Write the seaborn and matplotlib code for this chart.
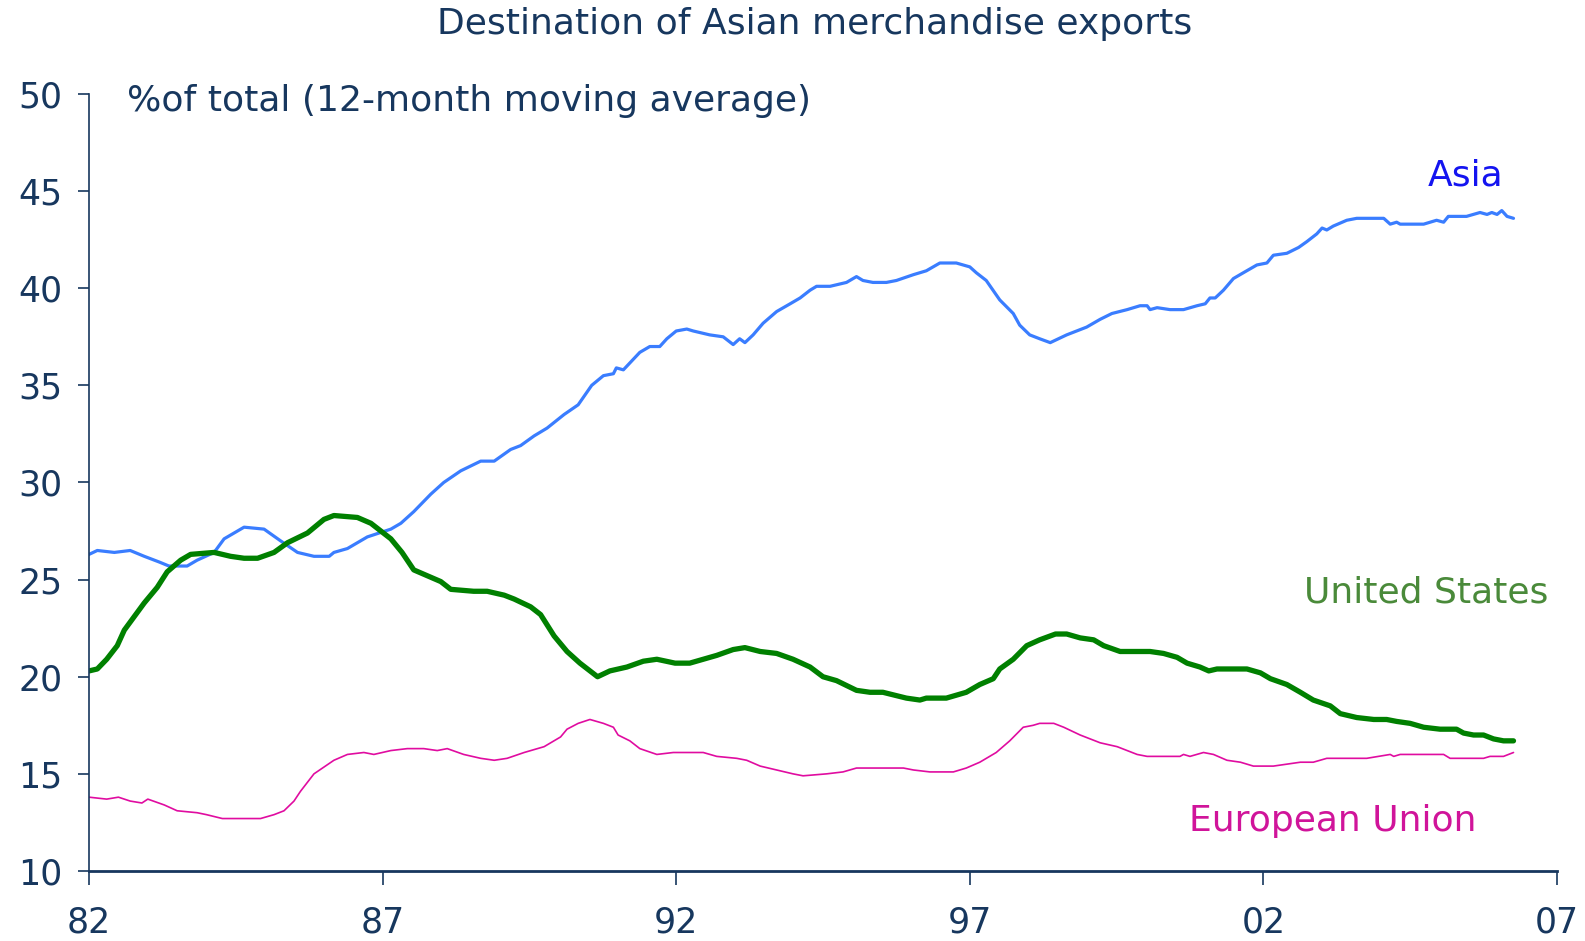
import matplotlib
matplotlib.use("Agg")
import matplotlib.pyplot as plt
import seaborn as sns
import pandas as pd

# ---------------- data ----------------
asia_years = [1982.0, 1982.14, 1982.43, 1982.7, 1982.94, 1983.2, 1983.36, 1983.67, 1983.84, 1984.13,
              1984.3, 1984.64, 1984.98, 1985.26, 1985.55, 1985.83, 1986.09, 1986.17, 1986.4, 1986.74,
              1987.14, 1987.31, 1987.53, 1987.82, 1988.04, 1988.33, 1988.67, 1988.9, 1989.18, 1989.35,
              1989.58, 1989.8, 1990.09, 1990.33, 1990.56, 1990.76, 1990.93, 1990.98, 1991.1, 1991.38,
              1991.55, 1991.72, 1991.84, 1992.0, 1992.18, 1992.29, 1992.57, 1992.8, 1992.97, 1993.08,
              1993.17, 1993.31, 1993.48, 1993.71, 1993.94, 1994.11, 1994.28, 1994.39, 1994.62, 1994.9,
              1995.07, 1995.18, 1995.35, 1995.58, 1995.75, 1996.04, 1996.26, 1996.49, 1996.77, 1997.0,
              1997.11, 1997.28, 1997.51, 1997.74, 1997.85, 1998.02, 1998.19, 1998.37, 1998.65, 1998.99,
              1999.22, 1999.42, 1999.68, 1999.9, 2000.02, 2000.07, 2000.19, 2000.41, 2000.64, 2000.87,
              2001.01, 2001.09, 2001.18, 2001.32, 2001.49, 2001.66, 2001.89, 2002.06, 2002.17, 2002.4,
              2002.6, 2002.74, 2002.91, 2003.0, 2003.08, 2003.19, 2003.42, 2003.59, 2003.82, 2004.05,
              2004.16, 2004.27, 2004.33, 2004.73, 2004.95, 2005.07, 2005.15, 2005.46, 2005.69, 2005.81,
              2005.89, 2005.98, 2006.06, 2006.15, 2006.26]
asia_share = [26.3, 26.5, 26.4, 26.5, 26.2, 25.9, 25.7, 25.7, 26.0, 26.4,
              27.1, 27.7, 27.6, 27.0, 26.4, 26.2, 26.2, 26.4, 26.6, 27.2,
              27.6, 27.9, 28.5, 29.4, 30.0, 30.6, 31.1, 31.1, 31.7, 31.9,
              32.4, 32.8, 33.5, 34.0, 35.0, 35.5, 35.6, 35.9, 35.8, 36.7,
              37.0, 37.0, 37.4, 37.8, 37.9, 37.8, 37.6, 37.5, 37.1, 37.4,
              37.2, 37.6, 38.2, 38.8, 39.2, 39.5, 39.9, 40.1, 40.1, 40.3,
              40.6, 40.4, 40.3, 40.3, 40.4, 40.7, 40.9, 41.3, 41.3, 41.1,
              40.8, 40.4, 39.4, 38.7, 38.1, 37.6, 37.4, 37.2, 37.6, 38.0,
              38.4, 38.7, 38.9, 39.1, 39.1, 38.9, 39.0, 38.9, 38.9, 39.1,
              39.2, 39.5, 39.5, 39.9, 40.5, 40.8, 41.2, 41.3, 41.7, 41.8,
              42.1, 42.4, 42.8, 43.1, 43.0, 43.2, 43.5, 43.6, 43.6, 43.6,
              43.3, 43.4, 43.3, 43.3, 43.5, 43.4, 43.7, 43.7, 43.9, 43.8,
              43.9, 43.8, 44.0, 43.7, 43.6]

us_years = [1982.0, 1982.14, 1982.3, 1982.48, 1982.6, 1982.77, 1982.94, 1983.16, 1983.33, 1983.56,
            1983.73, 1984.13, 1984.41, 1984.64, 1984.87, 1985.15, 1985.38, 1985.72, 1986.0, 1986.17,
            1986.57, 1986.8, 1987.14, 1987.33, 1987.53, 1987.76, 1987.99, 1988.16, 1988.55, 1988.78,
            1989.07, 1989.24, 1989.52, 1989.69, 1989.92, 1990.14, 1990.36, 1990.66, 1990.87, 1991.16,
            1991.44, 1991.67, 1991.98, 1992.23, 1992.46, 1992.69, 1992.97, 1993.17, 1993.43, 1993.71,
            1993.99, 1994.28, 1994.5, 1994.73, 1995.07, 1995.3, 1995.52, 1995.92, 1996.15, 1996.26,
            1996.6, 1996.94, 1997.17, 1997.4, 1997.51, 1997.74, 1997.97, 1998.19, 1998.46, 1998.65,
            1998.88, 1999.11, 1999.28, 1999.56, 2000.07, 2000.3, 2000.53, 2000.7, 2000.92, 2001.07,
            2001.21, 2001.72, 2001.95, 2002.12, 2002.4, 2002.63, 2002.85, 2003.14, 2003.31, 2003.59,
            2003.88, 2004.1, 2004.27, 2004.5, 2004.73, 2005.01, 2005.29, 2005.41, 2005.58, 2005.75,
            2005.92, 2006.09, 2006.26]
us_share = [20.3, 20.4, 20.9, 21.6, 22.4, 23.1, 23.8, 24.6, 25.4, 26.0,
            26.3, 26.4, 26.2, 26.1, 26.1, 26.4, 26.9, 27.4, 28.1, 28.3,
            28.2, 27.9, 27.1, 26.4, 25.5, 25.2, 24.9, 24.5, 24.4, 24.4,
            24.2, 24.0, 23.6, 23.2, 22.1, 21.3, 20.7, 20.0, 20.3, 20.5,
            20.8, 20.9, 20.7, 20.7, 20.9, 21.1, 21.4, 21.5, 21.3, 21.2,
            20.9, 20.5, 20.0, 19.8, 19.3, 19.2, 19.2, 18.9, 18.8, 18.9,
            18.9, 19.2, 19.6, 19.9, 20.4, 20.9, 21.6, 21.9, 22.2, 22.2,
            22.0, 21.9, 21.6, 21.3, 21.3, 21.2, 21.0, 20.7, 20.5, 20.3,
            20.4, 20.4, 20.2, 19.9, 19.6, 19.2, 18.8, 18.5, 18.1, 17.9,
            17.8, 17.8, 17.7, 17.6, 17.4, 17.3, 17.3, 17.1, 17.0, 17.0,
            16.8, 16.7, 16.7]

eu_years = [1982.0, 1982.3, 1982.5, 1982.7, 1982.9, 1983.0, 1983.28, 1983.5, 1983.84, 1984.0,
            1984.27, 1984.92, 1985.15, 1985.32, 1985.49, 1985.6, 1985.83, 1986.17, 1986.4, 1986.68,
            1986.85, 1987.14, 1987.42, 1987.7, 1987.93, 1988.1, 1988.38, 1988.67, 1988.9, 1989.12,
            1989.41, 1989.75, 1990.03, 1990.14, 1990.33, 1990.53, 1990.76, 1990.93, 1991.01, 1991.21,
            1991.38, 1991.67, 1991.95, 1992.46, 1992.69, 1993.03, 1993.2, 1993.43, 1993.71, 1993.99,
            1994.16, 1994.56, 1994.84, 1995.07, 1995.35, 1995.87, 1996.04, 1996.32, 1996.72, 1996.94,
            1997.17, 1997.45, 1997.68, 1997.91, 1998.08, 1998.19, 1998.43, 1998.6, 1998.88, 1999.22,
            1999.51, 1999.68, 1999.85, 2000.02, 2000.58, 2000.64, 2000.75, 2000.98, 2001.15, 2001.38,
            2001.61, 2001.83, 2002.17, 2002.4, 2002.63, 2002.85, 2003.08, 2003.76, 2004.16, 2004.22,
            2004.33, 2005.07, 2005.18, 2005.75, 2005.86, 2006.09, 2006.26]
eu_share = [13.8, 13.7, 13.8, 13.6, 13.5, 13.7, 13.4, 13.1, 13.0, 12.9,
            12.7, 12.7, 12.9, 13.1, 13.6, 14.1, 15.0, 15.7, 16.0, 16.1,
            16.0, 16.2, 16.3, 16.3, 16.2, 16.3, 16.0, 15.8, 15.7, 15.8,
            16.1, 16.4, 16.9, 17.3, 17.6, 17.8, 17.6, 17.4, 17.0, 16.7,
            16.3, 16.0, 16.1, 16.1, 15.9, 15.8, 15.7, 15.4, 15.2, 15.0,
            14.9, 15.0, 15.1, 15.3, 15.3, 15.3, 15.2, 15.1, 15.1, 15.3,
            15.6, 16.1, 16.7, 17.4, 17.5, 17.6, 17.6, 17.4, 17.0, 16.6,
            16.4, 16.2, 16.0, 15.9, 15.9, 16.0, 15.9, 16.1, 16.0, 15.7,
            15.6, 15.4, 15.4, 15.5, 15.6, 15.6, 15.8, 15.8, 16.0, 15.9,
            16.0, 16.0, 15.8, 15.8, 15.9, 15.9, 16.1]

xtick_vals = [1982, 1987, 1992, 1997, 2002, 2007]
xtick_labels = ["82", "87", "92", "97", "02", "07"]
ytick_vals = [10, 15, 20, 25, 30, 35, 40, 45, 50]

title = "Destination of Asian merchandise exports"
unit_label = "%of total (12-month moving average)"
series_labels = ["Asia", "United States", "European Union"]

# ---------------- styling ----------------
sns.set_theme(style="white")
plt.rcParams["font.family"] = ["DejaVu Sans"]

navy = "#17375e"
asia_c, us_c, eu_c = "#3a7dff", "#008000", "#e00ca0"

fig = plt.figure(figsize=(15.85, 9.41), dpi=100)
ax = fig.add_axes([0.0562, 0.0744, 0.9261, 0.8257])

df_asia = pd.DataFrame({"year": asia_years, "share": asia_share})
df_us = pd.DataFrame({"year": us_years, "share": us_share})
df_eu = pd.DataFrame({"year": eu_years, "share": eu_share})

sns.lineplot(data=df_eu, x="year", y="share", ax=ax, color=eu_c, linewidth=1.2)
sns.lineplot(data=df_asia, x="year", y="share", ax=ax, color=asia_c, linewidth=2.3)
sns.lineplot(data=df_us, x="year", y="share", ax=ax, color=us_c, linewidth=3.8)

ax.set_xlim(1982, 2007)
ax.set_ylim(10, 50)
ax.set_xticks(xtick_vals)
ax.set_xticklabels(xtick_labels)
ax.set_yticks(ytick_vals)
ax.set_xlabel("")
ax.set_ylabel("")

for s in ["top", "right"]:
    ax.spines[s].set_visible(False)
for s in ["left", "bottom"]:
    ax.spines[s].set_color(navy)
ax.spines["left"].set_linewidth(1.2)
ax.spines["bottom"].set_linewidth(2.0)

ax.tick_params(axis="x", direction="out", length=10, width=1.2, color=navy,
               labelcolor=navy, labelsize=25, pad=15, bottom=True)
ax.tick_params(axis="y", direction="out", length=8, width=1.2, color=navy,
               labelcolor=navy, labelsize=25, pad=11, left=True)

fig.text(0.514, 0.974, title, ha="center", va="center", fontsize=26, color=navy)
ax.text(1982.64, 49.65, unit_label, ha="left", va="center", fontsize=26, color=navy)

ax.text(2005.45, 45.8, series_labels[0], ha="center", va="center", fontsize=26, color="#1414f0")
ax.text(2004.78, 24.35, series_labels[1], ha="center", va="center", fontsize=26, color="#4a8a3a")
ax.text(2003.18, 12.55, series_labels[2], ha="center", va="center", fontsize=26, color="#d0149a")

fig.savefig("out.png", dpi=100)
